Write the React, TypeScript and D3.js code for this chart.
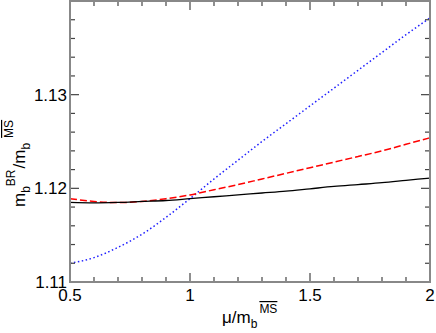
import React, { useEffect, useRef } from 'react';
import * as d3 from 'd3';

// mu / m_b values
const muVals = [0.5, 0.6, 0.7, 0.8, 0.9, 1.0, 1.1, 1.2, 1.3, 1.4, 1.5, 1.6, 1.7, 1.8, 1.9, 2.0];
const solidVals = [1.1185, 1.11845, 1.1185, 1.1186, 1.1187, 1.1189, 1.1191, 1.1193, 1.1195, 1.1197, 1.11995, 1.1202, 1.1204, 1.1206, 1.12085, 1.1211];
const dashedVals = [1.1189, 1.1186, 1.11848, 1.1186, 1.1189, 1.1193, 1.11985, 1.1204, 1.1210, 1.1216, 1.1222, 1.1228, 1.1234, 1.1240, 1.1247, 1.1254];
const dottedVals = [1.1120, 1.1126, 1.1137, 1.1151, 1.1169, 1.1189, 1.1210, 1.1230, 1.1250, 1.1269, 1.1288, 1.1307, 1.1326, 1.1345, 1.1364, 1.1382];
const xTicks = [0.5, 1, 1.5, 2];
const yTicks = [1.11, 1.12, 1.13];

const W = 436;
const H = 333;

export default function App() {
  const ref = useRef<SVGSVGElement>(null);

  useEffect(() => {
    const svg = d3.select(ref.current);
    svg.selectAll('*').remove();

    const left = 70, right = 430, top = 1, bottom = 282;
    const x = d3.scaleLinear().domain([0.5, 2]).range([left, right]);
    const y = d3.scaleLinear().domain([1.11, 1.14]).range([bottom, top]);

    const font = 'Liberation Sans, Arial, sans-serif';

    // curves
    const line = d3.line<number>()
      .x((d, i) => x(muVals[i]))
      .y(d => y(d))
      .curve(d3.curveMonotoneX);

    const g = svg.append('g');
    g.append('path').attr('d', line(dottedVals)).attr('fill', 'none')
      .attr('stroke', '#2020ff').attr('stroke-width', 1.5).attr('stroke-dasharray', '1.5,2.5');
    g.append('path').attr('d', line(dashedVals)).attr('fill', 'none')
      .attr('stroke', '#ff0000').attr('stroke-width', 1.5).attr('stroke-dasharray', '7,3');
    g.append('path').attr('d', line(solidVals)).attr('fill', 'none')
      .attr('stroke', '#000').attr('stroke-width', 1.3);

    // ticks
    const tickColor = '#444';
    const xMinor = d3.range(5, 21).map(v => v / 10);
    xMinor.forEach(v => {
      const major = xTicks.some(t => Math.abs(t - v) < 1e-6);
      const len = major ? 9 : 5;
      svg.append('line').attr('x1', x(v)).attr('x2', x(v)).attr('y1', bottom).attr('y2', bottom - len)
        .attr('stroke', tickColor).attr('stroke-width', 1.2);
      svg.append('line').attr('x1', x(v)).attr('x2', x(v)).attr('y1', top).attr('y2', top + len)
        .attr('stroke', tickColor).attr('stroke-width', 1.2);
    });
    const yMinor = d3.range(0, 16).map(v => 1.11 + v * 0.002);
    yMinor.forEach(v => {
      const major = yTicks.some(t => Math.abs(t - v) < 1e-6);
      const len = major ? 9 : 5;
      svg.append('line').attr('x1', left).attr('x2', left + len).attr('y1', y(v)).attr('y2', y(v))
        .attr('stroke', tickColor).attr('stroke-width', 1.2);
      svg.append('line').attr('x1', right).attr('x2', right - len).attr('y1', y(v)).attr('y2', y(v))
        .attr('stroke', tickColor).attr('stroke-width', 1.2);
    });

    // frame
    svg.append('rect').attr('x', left).attr('y', top).attr('width', right - left).attr('height', bottom - top)
      .attr('fill', 'none').attr('stroke', '#888').attr('stroke-width', 2);

    // tick labels
    xTicks.forEach(v => {
      svg.append('text').attr('x', x(v)).attr('y', 301).attr('text-anchor', 'middle')
        .attr('font-family', font).attr('font-size', 17).attr('fill', '#000').text(String(v));
    });
    yTicks.forEach(v => {
      svg.append('text').attr('x', left - 3).attr('y', y(v) + 6).attr('text-anchor', 'end')
        .attr('font-family', font).attr('font-size', 17).attr('fill', '#000').text(v.toFixed(2));
    });

    // x label
    const xl = svg.append('text').attr('x', 222).attr('y', 323)
      .attr('font-family', font).attr('font-size', 17).attr('fill', '#000');
    xl.append('tspan').text('μ/m');
    xl.append('tspan').attr('dy', 5).attr('font-size', 12).text('b');
    xl.append('tspan').attr('dy', -15).attr('dx', 2).attr('font-size', 12)
      .style('text-decoration', 'overline').text('MS');

    // y label
    const yl = svg.append('text').attr('transform', 'translate(25,207) rotate(-90)')
      .attr('font-family', font).attr('font-size', 17).attr('fill', '#000');
    yl.append('tspan').text('m');
    yl.append('tspan').attr('dy', 5).attr('font-size', 12).text('b');
    yl.append('tspan').attr('dy', -15).attr('dx', 0).attr('font-size', 12).text('BR');
    yl.append('tspan').attr('dy', 10).attr('dx', 1).text('/m');
    yl.append('tspan').attr('dy', 5).attr('font-size', 12).text('b');
    yl.append('tspan').attr('dy', -17).attr('dx', 5).attr('font-size', 12)
      .style('text-decoration', 'overline').text('MS');
  }, []);

  return (
    <svg ref={ref} width={W} height={H}
      style={{ position: 'absolute', left: 0, top: 0, background: '#fff' }} />
  );
}
